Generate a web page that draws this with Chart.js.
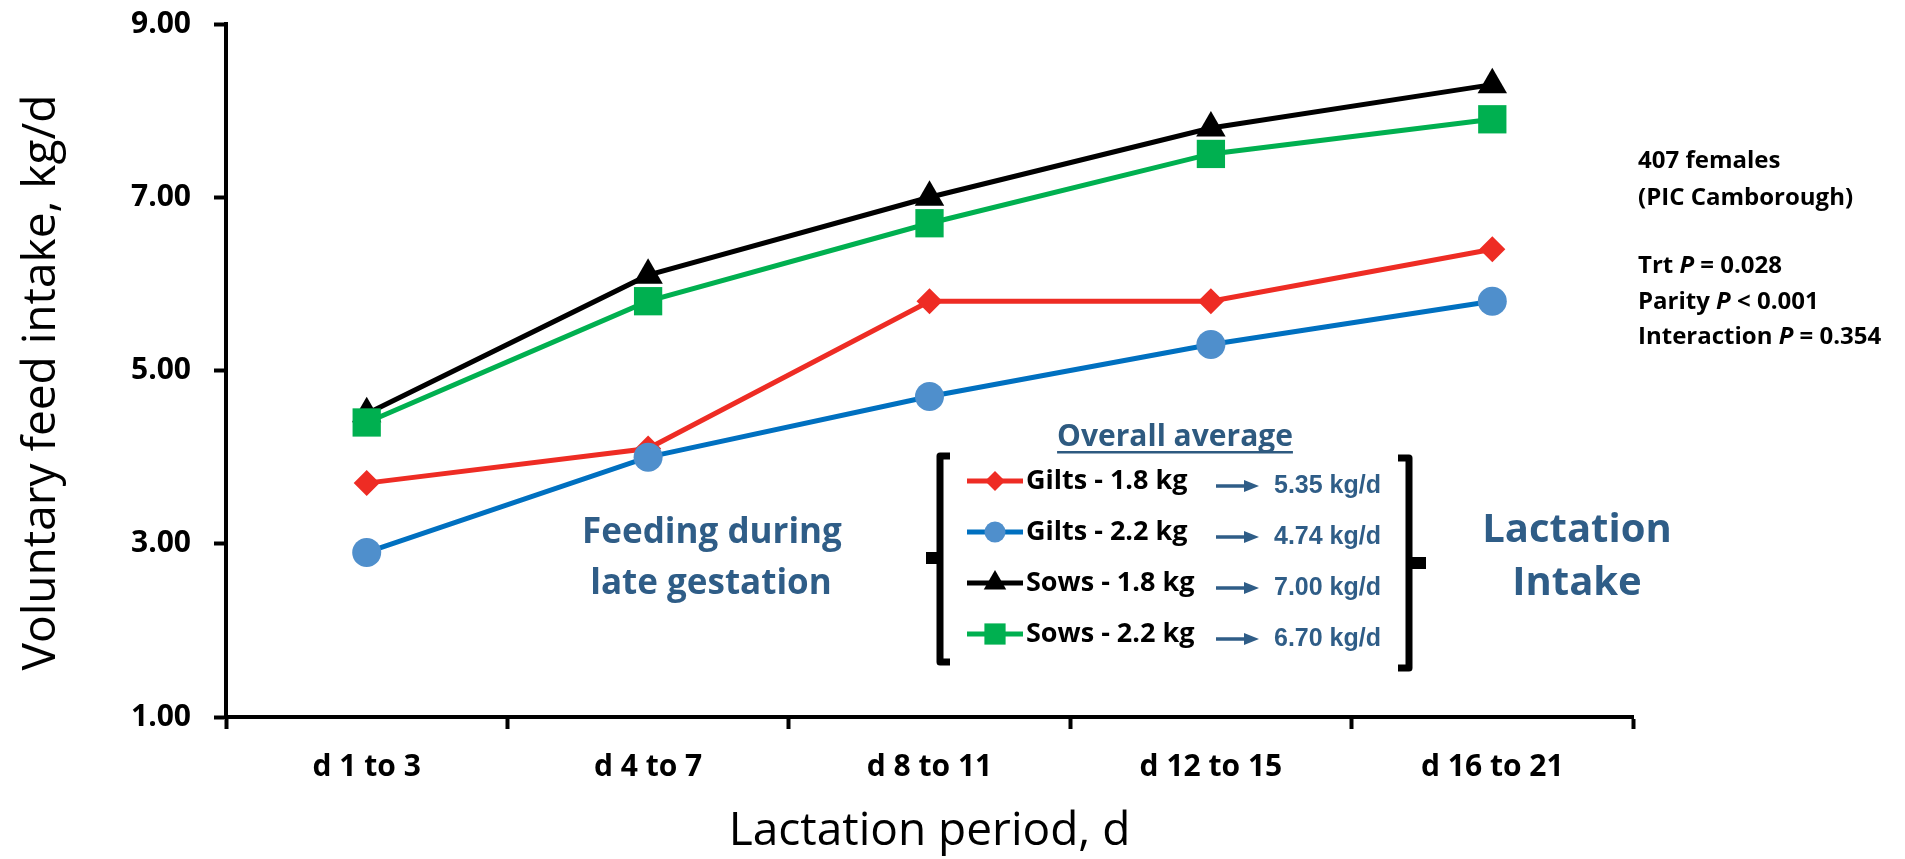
<!DOCTYPE html>
<html>
<head>
<meta charset="utf-8">
<title>Voluntary feed intake during lactation</title>
<script src="https://cdn.jsdelivr.net/npm/chart.js@4.4.1/dist/chart.umd.min.js"></script>
<style>
  html, body { margin: 0; padding: 0; background: #fff; }
  #wrap { width: 1905px; height: 859px; }
</style>
</head>
<body>
<div id="wrap"><canvas id="intakeChart" width="1905" height="859"></canvas></div>
<script>
// Data
const categories = ["d 1 to 3", "d 4 to 7", "d 8 to 11", "d 12 to 15", "d 16 to 21"];
const gilts18 = [3.7, 4.1, 5.8, 5.8, 6.4];
const gilts22 = [2.9, 4.0, 4.7, 5.3, 5.8];
const sows18 = [4.5, 6.1, 7.0, 7.8, 8.3];
const sows22 = [4.4, 5.8, 6.7, 7.5, 7.9];
const seriesNames = ["Gilts - 1.8 kg", "Gilts - 2.2 kg", "Sows - 1.8 kg", "Sows - 2.2 kg"];
const overallAverage = ["5.35 kg/d", "4.74 kg/d", "7.00 kg/d", "6.70 kg/d"];
const yMin = 1, yMax = 9, yStep = 2;

const FONT = "'Open Sans', 'Noto Sans', sans-serif";
const ARIAL = "'Liberation Sans', Arial, sans-serif";
const NOTE_BLUE = "#2F5D87";

// draws a line of text where parts in {i: ...} are italic
function richText(c, parts, x, y, size) {
  let cx = x;
  parts.forEach(p => {
    const italic = typeof p !== "string";
    const s = italic ? p.i : p;
    c.font = (italic ? "italic " : "") + "bold " + size + "px " + FONT;
    c.fillText(s, cx, y);
    cx += c.measureText(s).width;
  });
}

// text notes, brackets and the "Overall average" key
const overlay = {
  id: "overlay",
  afterDraw(chart) {
    const c = chart.ctx;
    c.save();

    // notes on the right
    c.fillStyle = "#000";
    c.textAlign = "left";
    c.textBaseline = "middle";
    richText(c, ["407 females"], 1638, 161, 24);
    richText(c, ["(PIC Camborough)"], 1638, 198, 24);
    richText(c, ["Trt ", {i: "P"}, " = 0.028"], 1638, 266, 24);
    richText(c, ["Parity ", {i: "P"}, " < 0.001"], 1638, 302, 24);
    richText(c, ["Interaction ", {i: "P"}, " = 0.354"], 1638, 337, 24);

    // blue captions
    c.fillStyle = NOTE_BLUE;
    c.textAlign = "center";
    c.font = "bold 35px " + FONT;
    c.fillText("Feeding during", 712, 533);
    c.fillText("late gestation", 711, 584);
    c.font = "bold 40px " + FONT;
    c.fillText("Lactation", 1577, 531);
    c.fillText("Intake", 1577, 584);

    // key title, underlined
    c.font = "bold 30px " + FONT;
    c.fillStyle = "#2E5A80";
    c.fillText("Overall average", 1175, 437);
    const tw = c.measureText("Overall average").width;
    c.fillRect(1175 - tw / 2, 451, tw, 2.5);

    // brackets
    c.strokeStyle = "#000";
    c.fillStyle = "#000";
    c.lineWidth = 7;
    c.lineJoin = "round";
    c.beginPath();
    c.moveTo(950, 456); c.lineTo(940, 456); c.lineTo(940, 662); c.lineTo(950, 662);
    c.stroke();
    c.fillRect(926, 552, 14, 12);
    c.beginPath();
    c.moveTo(1398, 458); c.lineTo(1409, 458); c.lineTo(1409, 668); c.lineTo(1398, 668);
    c.stroke();
    c.fillRect(1409, 557, 17, 12);

    // key rows
    const rows = [481, 532, 583, 634];
    const keyRadius = [10, 10.5, 13, 15];
    chart.data.datasets.forEach((ds, i) => {
      const y = rows[i];
      c.strokeStyle = ds.borderColor;
      c.lineWidth = 5;
      c.beginPath();
      c.moveTo(967, y); c.lineTo(1023, y);
      c.stroke();
      c.fillStyle = ds.pointBackgroundColor;
      Chart.helpers.drawPoint(c, {pointStyle: ds.pointStyle, radius: keyRadius[i], rotation: 0, borderWidth: 0}, 995, y);

      c.fillStyle = "#000";
      c.textAlign = "left";
      c.font = "bold 27px " + FONT;
      c.fillText(seriesNames[i], 1026, y);

      // arrow
      const ay = y + 5;
      c.strokeStyle = NOTE_BLUE;
      c.fillStyle = NOTE_BLUE;
      c.lineWidth = 3.5;
      c.beginPath();
      c.moveTo(1216, ay); c.lineTo(1246, ay);
      c.stroke();
      c.beginPath();
      c.moveTo(1244, ay - 6); c.lineTo(1259, ay); c.lineTo(1244, ay + 6);
      c.closePath();
      c.fill();

      c.font = "bold 25px " + ARIAL;
      c.fillText(overallAverage[i], 1274, ay);
    });

    c.restore();
  }
};

const intakeCtx = document.getElementById("intakeChart").getContext("2d");
const intakeChart = new Chart(intakeCtx, {
  type: "line",
  data: {
    labels: categories,
    datasets: [
      {
        label: seriesNames[0],
        data: gilts18,
        borderColor: "#EE2C24",
        pointBackgroundColor: "#EE2C24",
        pointBorderColor: "#EE2C24",
        pointStyle: "rectRot",
        pointRadius: 13,
        order: 3,
      },
      {
        label: seriesNames[1],
        data: gilts22,
        borderColor: "#0070C0",
        pointBackgroundColor: "#4F8FCC",
        pointBorderColor: "#4F8FCC",
        pointStyle: "circle",
        pointRadius: 14.5,
        order: 1,
      },
      {
        label: seriesNames[2],
        data: sows18,
        borderColor: "#000000",
        pointBackgroundColor: "#000000",
        pointBorderColor: "#000000",
        pointStyle: "triangle",
        pointRadius: 17,
        order: 2,
      },
      {
        label: seriesNames[3],
        data: sows22,
        borderColor: "#00B050",
        pointBackgroundColor: "#00B050",
        pointBorderColor: "#00B050",
        pointStyle: "rect",
        pointRadius: 20,
        order: 0,
      },
    ],
  },
  options: {
    responsive: false,
    animation: false,
    elements: {
      line: { borderWidth: 5, tension: 0, fill: false },
      point: { borderWidth: 0, hoverRadius: 0 },
    },
    layout: { padding: { top: 24, right: 272, bottom: 0, left: 0 } },
    plugins: {
      legend: { display: false },
      tooltip: { enabled: false },
    },
    scales: {
      x: {
        offset: true,
        border: { color: "#000", width: 4 },
        grid: {
          offset: true,
          drawOnChartArea: false,
          drawTicks: true,
          tickLength: 12,
          tickWidth: 4,
          tickColor: "#000",
        },
        ticks: {
          color: "#000",
          padding: 20,
          maxRotation: 0,
          font: { family: FONT, size: 30, weight: "bold" },
        },
        title: {
          display: true,
          text: "Lactation period, d",
          color: "#000",
          padding: { top: 0, bottom: 0 },
          font: { family: FONT, size: 46 },
        },
        afterFit(scale) { scale.height = 142; },
      },
      y: {
        min: yMin,
        max: yMax,
        border: { color: "#000", width: 4 },
        grid: {
          drawOnChartArea: false,
          drawTicks: true,
          tickLength: 12,
          tickWidth: 4,
          tickColor: "#000",
        },
        ticks: {
          stepSize: yStep,
          color: "#000",
          padding: 23,
          font: { family: FONT, size: 30, weight: "bold" },
          callback: v => v.toFixed(2),
        },
        title: {
          display: true,
          // trailing spaces nudge the centred title down a little, as in the original
          text: "Voluntary feed intake, kg/d\u00A0\u00A0",
          color: "#000",
          padding: { top: 14, bottom: 0 },
          font: { family: FONT, size: 46 },
        },
        afterFit(scale) {
          scale.width = 226;
          scale.paddingTop = 0;
          scale.paddingBottom = 0;
        },
      },
    },
  },
  plugins: [overlay],
});
</script>
</body>
</html>
